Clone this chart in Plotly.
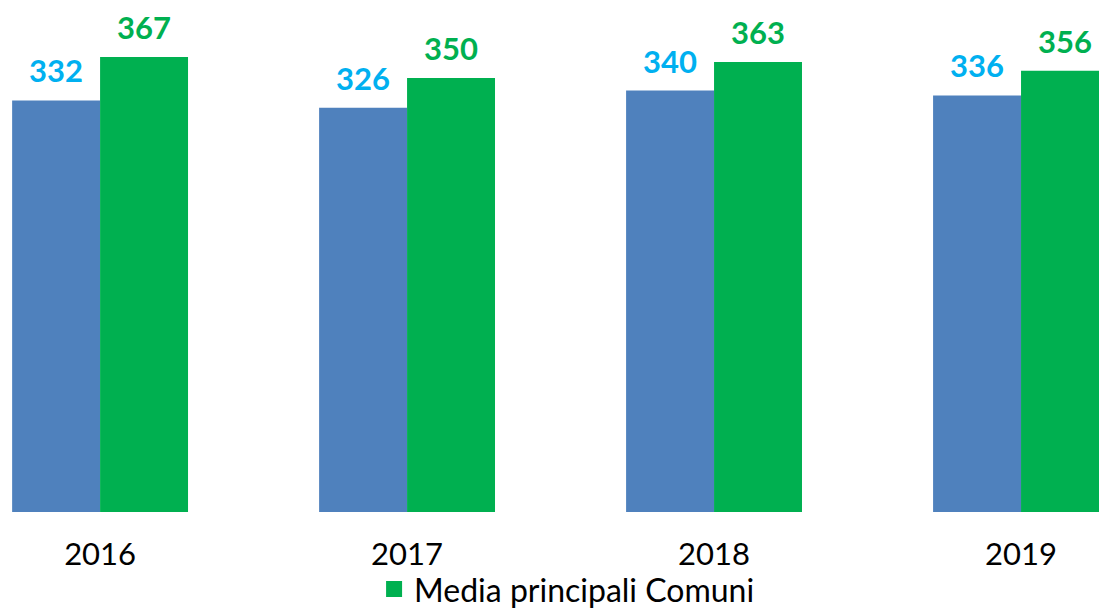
import plotly.graph_objects as go

years = ["2016", "2017", "2018", "2019"]
serie_blu = [332, 326, 340, 336]
serie_verde = [367, 350, 363, 356]
nome_blu = "Media"
nome_verde = "Media principali Comuni"

BLUE = "#4F81BD"
GREEN = "#00B050"
LBLUE = "#00B0F0"
FONT = "Lato"

fig = go.Figure()
fig.add_trace(go.Bar(x=years, y=serie_blu, name=nome_blu, marker_color=BLUE,
                     marker_line_width=0, showlegend=False))
fig.add_trace(go.Bar(x=years, y=serie_verde, name=nome_verde, marker_color=GREEN,
                     marker_line_width=0, showlegend=False))
# legend entry with a larger square symbol
fig.add_trace(go.Scatter(x=[None], y=[None], mode="markers", name=nome_verde,
                         marker=dict(symbol="square", size=16, color=GREEN),
                         showlegend=True))

for i, v in enumerate(serie_blu):
    fig.add_annotation(x=i, y=v, xref="x", yref="y", text=f"<b>{v}</b>", showarrow=False,
                       xshift=-44, yshift=30, yanchor="middle",
                       font=dict(family=FONT, size=31, color=LBLUE))
for i, v in enumerate(serie_verde):
    fig.add_annotation(x=i, y=v, xref="x", yref="y", text=f"<b>{v}</b>", showarrow=False,
                       xshift=44, yshift=30, yanchor="middle",
                       font=dict(family=FONT, size=31, color=GREEN))

fig.update_layout(
    width=1099, height=610,
    margin=dict(l=0, r=0, t=0, b=98, autoexpand=False),
    paper_bgcolor="white", plot_bgcolor="white",
    barmode="group", bargap=0.427, bargroupgap=0,
    font=dict(family=FONT, color="black"),
    showlegend=True,
    legend=dict(orientation="h", x=0.516, xanchor="center",
                yref="container", y=0.034, yanchor="middle",
                font=dict(family=FONT, size=32, color="black"),
                itemsizing="trace", bgcolor="rgba(0,0,0,0)"),
    xaxis=dict(type="category", range=[-0.326, 3.254], showgrid=False, showline=False,
               zeroline=False, ticks="outside", ticklen=15, tickcolor="rgba(0,0,0,0)",
               tickfont=dict(family=FONT, size=31, color="black")),
    yaxis=dict(range=[0, 413], visible=False, showgrid=False, zeroline=False),
)

fig.write_html("out.html", config={"displayModeBar": False},
               post_script="document.body.style.margin='0';document.body.style.overflow='hidden';")
